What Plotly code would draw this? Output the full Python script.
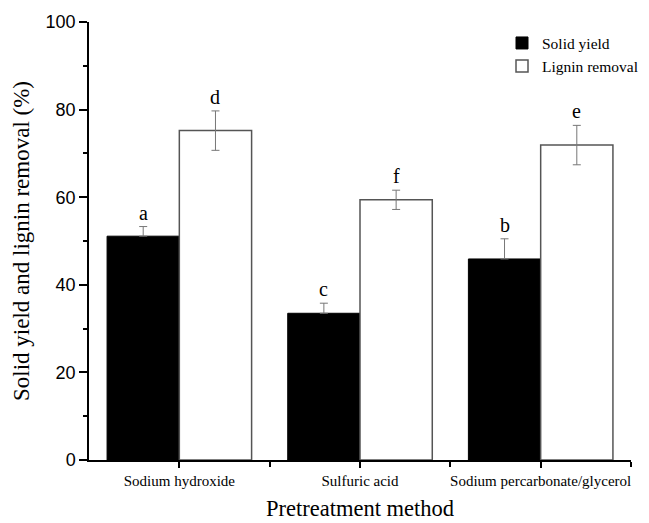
import plotly.graph_objects as go

categories = ["Sodium hydroxide", "Sulfuric acid", "Sodium percarbonate/glycerol"]
solid_yield = [51.1, 33.5, 45.9]
solid_yield_err = [2.2, 2.3, 4.6]
lignin_removal = [75.2, 59.4, 71.9]
lignin_removal_err = [4.5, 2.2, 4.5]
solid_letters = ["a", "c", "b"]
lignin_letters = ["d", "f", "e"]

xpos = list(range(len(categories)))
serif = "Liberation Serif"
sans = "Liberation Sans"
err_color = "#777777"

fig = go.Figure()
fig.add_trace(go.Bar(
    x=xpos, y=solid_yield, name="Solid yield",
    marker=dict(color="black", line=dict(color="black", width=1)),
    error_y=dict(type="data", symmetric=False, array=solid_yield_err,
                 arrayminus=[0] * len(solid_yield_err),
                 color=err_color, thickness=1, width=4),
))
fig.add_trace(go.Bar(
    x=xpos, y=lignin_removal, name="Lignin removal",
    marker=dict(color="white", line=dict(color="#555555", width=1.5)),
    error_y=dict(type="data", array=lignin_removal_err, color=err_color, thickness=1, width=4),
))

annotations = []
for i in range(len(categories)):
    annotations.append(dict(x=i - 0.2, y=solid_yield[i] + solid_yield_err[i], text=solid_letters[i],
                            xref="x", yref="y", showarrow=False, yanchor="bottom", yshift=1,
                            font=dict(family=serif, size=20, color="black")))
    annotations.append(dict(x=i + 0.2, y=lignin_removal[i] + lignin_removal_err[i], text=lignin_letters[i],
                            xref="x", yref="y", showarrow=False, yanchor="bottom", yshift=1,
                            font=dict(family=serif, size=20, color="black")))

fig.update_layout(
    width=641, height=515,
    margin=dict(l=81, r=18, t=14, b=63, autoexpand=False),
    paper_bgcolor="white", plot_bgcolor="white",
    barmode="group", bargap=0.2, bargroupgap=0,
    showlegend=True,
    legend=dict(x=0.762, y=0.99, xanchor="left", yanchor="top",
                font=dict(family=serif, size=15.5, color="black"),
                bgcolor="rgba(0,0,0,0)", tracegroupgap=0, itemwidth=30),
    annotations=annotations,
    xaxis=dict(
        range=[-0.5, 2.5], tickmode="array", tickvals=xpos, ticktext=categories,
        automargin=False,
        showline=True, linecolor="black", linewidth=1.5, mirror=False,
        ticks="outside", ticklen=6, tickwidth=1.5, tickcolor="black",
        showgrid=False, zeroline=False,
        tickfont=dict(family=serif, size=15, color="black"),
        minor=dict(tickmode="array", tickvals=[0.5, 1.5, 2.5], ticks="outside", ticklen=5,
                   tickwidth=1.5, tickcolor="black", showgrid=False),
        title=dict(text="Pretreatment method", font=dict(family=serif, size=22.5, color="black"), standoff=12),
    ),
    yaxis=dict(
        range=[0, 100], tickmode="linear", tick0=0, dtick=20,
        automargin=False,
        showline=True, linecolor="black", linewidth=1.5, mirror=False,
        ticks="outside", ticklen=8, tickwidth=1.5, tickcolor="black",
        showgrid=False, zeroline=False,
        tickfont=dict(family=sans, size=18, color="black"),
        minor=dict(tickmode="linear", tick0=10, dtick=20, ticks="outside", ticklen=4,
                   tickwidth=1.5, tickcolor="black", showgrid=False),
        title=dict(text="Solid yield and lignin removal (%)", font=dict(family=serif, size=23, color="black"), standoff=10),
    ),
)

fig.write_html("out.html")
